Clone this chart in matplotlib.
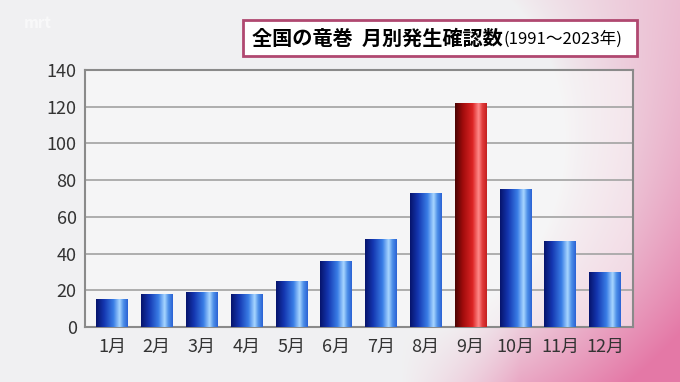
import numpy as np
import matplotlib
matplotlib.use("Agg")
import matplotlib.pyplot as plt
from matplotlib.colors import LinearSegmentedColormap
from matplotlib.patches import Rectangle

plt.rcParams['font.family'] = ['Noto Sans CJK JP', 'DejaVu Sans']

months = ["1月", "2月", "3月", "4月", "5月", "6月", "7月", "8月", "9月", "10月", "11月", "12月"]
counts = [15, 18, 19, 18, 25, 36, 48, 73, 122, 75, 47, 30]
highlight = "9月"
yticks = [0, 20, 40, 60, 80, 100, 120, 140]
title_main = "全国の竜巻  月別発生確認数"
title_sub = "(1991～2023年)"

W, H = 680, 382
fig = plt.figure(figsize=(W / 100, H / 100), dpi=100)

# background with pink decoration
bg = fig.add_axes([0, 0, 1, 1], zorder=-10)
bg.set_axis_off()
yy, xx = np.mgrid[0:H, 0:W]
base = np.array([0.945, 0.945, 0.950])
pink = np.array([0.89, 0.42, 0.62])
d = np.sqrt(((xx - 390) / 1.0) ** 2 + ((yy - 140) / 1.1) ** 2)
t = np.clip((d - 175) / 170, 0, 1) ** 0.8
t = t * np.clip((xx - 400) / 120, 0, 1)
t = t * (0.45 + 0.55 * yy / H)
t2 = np.clip(((xx - 560) + (yy - 250)) / 220, 0, 1) * 0.65
t = np.clip(np.maximum(t, t2), 0, 0.9)
img = base[None, None, :] * (1 - t[..., None]) + pink[None, None, :] * t[..., None]
bg.imshow(img, extent=[0, 1, 0, 1], aspect='auto', origin='upper')
bg.set_xlim(0, 1)
bg.set_ylim(0, 1)
bg.text(0.035, 0.96, "mrt", color='white', alpha=0.6, fontsize=11,
        fontweight='bold', ha='left', va='top', transform=bg.transAxes)

ax = fig.add_axes([85 / W, 1 - 327 / H, (633 - 85) / W, (327 - 70) / H])
ax.set_facecolor((0.975, 0.975, 0.975, 0.6))

x = np.arange(len(months))
bars = ax.bar(x, counts, width=0.70, color='none', edgecolor='none', zorder=3)

blue_cmap = LinearSegmentedColormap.from_list("b", [
    (0.0, "#06136b"), (0.25, "#1436b0"), (0.55, "#3a7ee6"),
    (0.74, "#a9d6ff"), (0.86, "#4d8fe8"), (1.0, "#2a62d4")])
red_cmap = LinearSegmentedColormap.from_list("r", [
    (0.0, "#4a0404"), (0.25, "#a10c0c"), (0.55, "#dc2424"),
    (0.74, "#ff8a8a"), (0.86, "#e03a3a"), (1.0, "#c42020")])
grad = np.linspace(0, 1, 256)[None, :]

for m, b in zip(months, bars):
    x0, y0 = b.get_x(), b.get_y()
    w, h = b.get_width(), b.get_height()
    cmap = red_cmap if m == highlight else blue_cmap
    im = ax.imshow(grad, cmap=cmap, extent=[x0, x0 + w, y0, y0 + h],
                   aspect='auto', zorder=3, interpolation='bilinear')
    im.set_clip_path(b)

ax.set_xlim(-0.6, len(months) - 0.375)
ax.set_ylim(0, 140)
ax.set_yticks(yticks)
ax.set_xticks(x)
ax.set_xticklabels(months)
ax.tick_params(axis='both', length=0, labelsize=13, colors='#333333', pad=6)
ax.tick_params(axis='x', pad=8)
ax.grid(axis='y', color='#a8a8a8', linewidth=1.3, zorder=1)
ax.set_axisbelow(True)
for s in ax.spines.values():
    s.set_color('#8a8a8a')
    s.set_linewidth(1.5)

# title box
fig.patches.append(Rectangle((243 / W, 1 - 56 / H), (637 - 243) / W, 36 / H,
                             transform=fig.transFigure, facecolor='white',
                             edgecolor='#b04870', linewidth=2, zorder=5))
t1 = fig.text(252 / W, 1 - 38.5 / H, title_main, fontsize=14.5, fontweight='bold',
              ha='left', va='center', color='black', zorder=6)
fig.canvas.draw()
ext = t1.get_window_extent()
fig.text(ext.x1 / W + 0.001, 1 - 39.5 / H, title_sub, fontsize=12,
         ha='left', va='center', color='black', zorder=6)

fig.savefig("out.png", dpi=100)
